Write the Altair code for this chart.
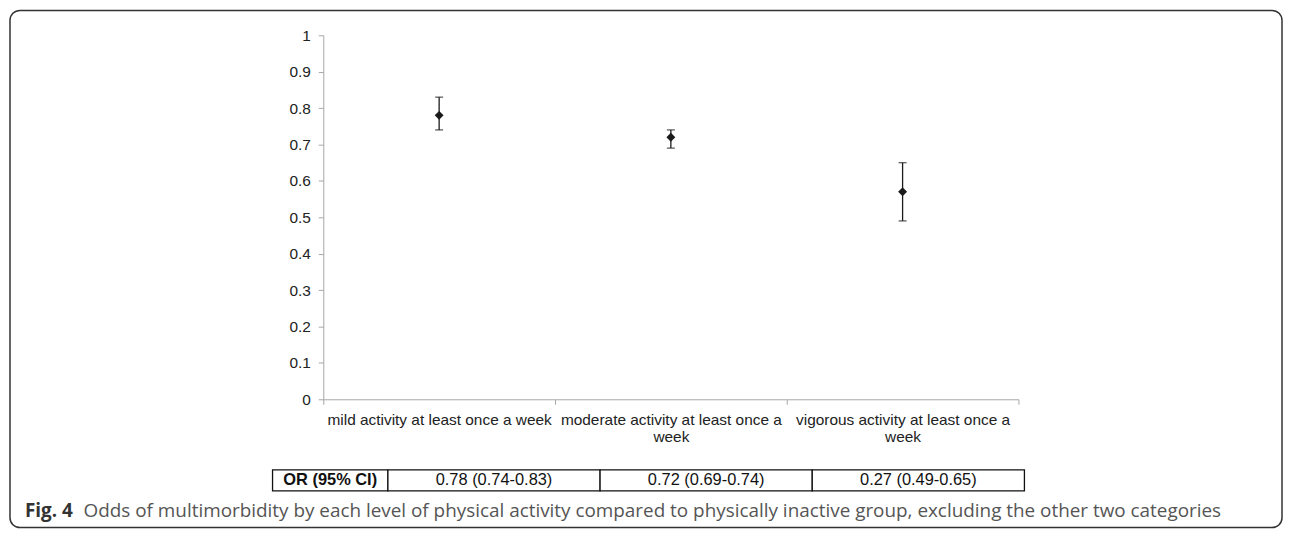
import altair as alt
import pandas as pd

# ---------------- data ----------------
CATEGORIES = [
    "mild activity at least once a week",
    "moderate activity at least once a week",
    "vigorous activity at least once a week",
]
OR_VALUES = [0.78, 0.72, 0.57]
CI_LOW = [0.74, 0.69, 0.49]
CI_HIGH = [0.83, 0.74, 0.65]
Y_TICKS = [0, 0.1, 0.2, 0.3, 0.4, 0.5, 0.6, 0.7, 0.8, 0.9, 1]
TABLE_HEADER = ["OR (95% CI)"]
TABLE_CELLS = ["0.78 (0.74-0.83)", "0.72 (0.69-0.74)", "0.27 (0.49-0.65)"]
CAPTION_LABEL = ["Fig. 4"]
CAPTION_TEXT = ["Odds of multimorbidity by each level of physical activity compared to "
                "physically inactive group, excluding the other two categories"]

# ---------------- layout (pixels inside the framed view) ----------------
W, H = 1279, 520
PLOT_X = [315, 1014]
PLOT_Y = [391, 25]
HEADER_X = [264, 380]
CELLS_X = [380, 1020]
ROW_Y = [462, 483]
INK = "#1a1a1a"
AXIS_GREY = "#a6a6a6"
LABEL_FONT = "Liberation Sans"

df = pd.DataFrame({"cat": CATEGORIES, "or": OR_VALUES, "lo": CI_LOW, "hi": CI_HIGH})

x_scale = alt.Scale(domain=CATEGORIES, range=PLOT_X, paddingInner=0, paddingOuter=0)
y_scale = alt.Scale(domain=[0, 1], range=PLOT_Y, nice=False)

wrap_expr = ("length(datum.label) > 34 ? "
             "[slice(datum.label, 0, lastindexof(datum.label, ' ')), "
             "slice(datum.label, lastindexof(datum.label, ' ') + 1)] : datum.label")

x_axis = alt.Axis(
    offset=-(H - PLOT_Y[0]), tickBand="extent", labelAngle=0, labelLimit=400,
    labelOverlap=False, labelExpr=wrap_expr, labelFont=LABEL_FONT, labelFontSize=15.5,
    labelColor="#222", labelPadding=8, tickSize=5, domainColor=AXIS_GREY,
    tickColor=AXIS_GREY, labelLineHeight=17.5, grid=False, title=None,
)
y_axis = alt.Axis(
    offset=-PLOT_X[0], values=Y_TICKS, format=".1~f", grid=False, title=None,
    labelFont=LABEL_FONT, labelFontSize=15.5, labelColor="#222", labelPadding=8,
    tickSize=5, domainColor=AXIS_GREY, tickColor=AXIS_GREY,
)

X = alt.X("cat:N", scale=x_scale, sort=CATEGORIES, axis=x_axis)

points = alt.Chart(df).mark_point(shape="diamond", filled=True, size=80,
                                  color=INK, opacity=1).encode(
    x=X, y=alt.Y("or:Q", scale=y_scale, axis=y_axis))

bars = alt.Chart(df).mark_rule(color=INK, strokeWidth=1.3).encode(
    x=X, y=alt.Y("lo:Q", scale=y_scale, axis=y_axis), y2="hi:Q")

caps = alt.Chart(df).transform_fold(["lo", "hi"], as_=["end", "v"]).mark_tick(
    orient="horizontal", size=8, thickness=1.3, color=INK).encode(
    x=X, y=alt.Y("v:Q", scale=y_scale, axis=y_axis))

scatter = alt.layer(bars, caps, points)

# ---------------- table under the chart ----------------
header_df = pd.DataFrame({"col": TABLE_HEADER, "row": ["OR"]})
cells_df = pd.DataFrame({"col": TABLE_CELLS, "row": ["OR"] * len(TABLE_CELLS)})

row_y = alt.Y("row:N", scale=alt.Scale(range=ROW_Y, paddingInner=0, paddingOuter=0), axis=None)

hx = alt.X("col:N", scale=alt.Scale(range=HEADER_X, paddingInner=0, paddingOuter=0), axis=None)
header = alt.layer(
    alt.Chart(header_df).mark_rect(fill="white", stroke="#111", strokeWidth=1.3).encode(x=hx, y=row_y),
    alt.Chart(header_df).mark_text(font=LABEL_FONT, fontSize=16.5, fontWeight="bold",
                                   color="#111").encode(x=hx, y=row_y, text="col:N"),
)

cx = alt.X("col:N", sort=TABLE_CELLS,
           scale=alt.Scale(range=CELLS_X, paddingInner=0, paddingOuter=0), axis=None)
cells = alt.layer(
    alt.Chart(cells_df).mark_rect(fill="white", stroke="#111", strokeWidth=1.3).encode(x=cx, y=row_y),
    alt.Chart(cells_df).mark_text(font=LABEL_FONT, fontSize=16.5,
                                  color="#111").encode(x=cx, y=row_y, text="col:N"),
)

# ---------------- caption ----------------
cap1 = alt.Chart(pd.DataFrame({"t": CAPTION_LABEL})).mark_text(
    align="left", baseline="middle", font="Open Sans", fontWeight="bold",
    fontSize=19, color="#333").encode(x=alt.value(15), y=alt.value(503), text="t:N")
cap2 = alt.Chart(pd.DataFrame({"t": CAPTION_TEXT})).mark_text(
    align="left", baseline="middle", font="Open Sans", fontSize=19,
    color="#555").encode(x=alt.value(74), y=alt.value(503), text="t:N")

chart = alt.layer(scatter, header, cells, cap1, cap2).resolve_scale(
    x="independent", y="independent"
).properties(
    width=W, height=H,
    padding={"left": 2, "top": 1, "right": 2, "bottom": 0},
    autosize=alt.AutoSizeParams(type="none"),
).configure_view(
    stroke="#333", strokeWidth=1.5, cornerRadius=10, fill="white"
)

chart.save("out.html", embed_options={"renderer": "svg", "actions": False})
